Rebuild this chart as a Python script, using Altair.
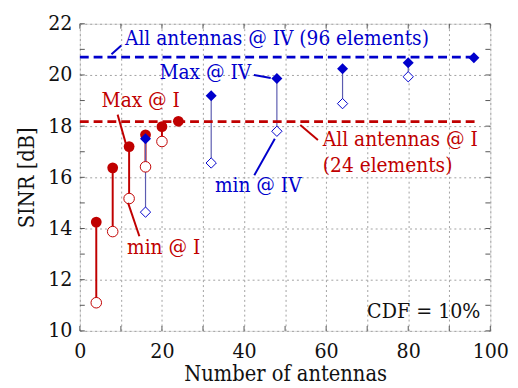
import altair as alt
import pandas as pd

# ---- data ----
red_x = [4, 8, 12, 16, 20, 24]
red_max = [14.25, 16.37, 17.2, 17.66, 17.98, 18.19]
red_min = [11.1, 13.88, 15.17, 16.41, 17.4, None]
blue_x = [16, 32, 48, 64, 80, 96]
blue_max = [17.51, 19.19, 19.86, 20.24, 20.48, 20.67]
blue_min = [14.64, 16.56, 17.8, 18.88, 19.93, None]
all_I = 18.18
all_IV = 20.7

x_ticks = list(range(0, 101, 10))
y_ticks = list(range(10, 23, 1))

RED = "#c00000"
BLUE = "#0000cc"
STEM_BLUE = "#5c5cb0"
FONT = "DejaVu Serif Condensed, DejaVu Serif"
W, H = 417, 312

red = pd.DataFrame({"x": red_x, "mx": red_max, "mn": red_min})
blue = pd.DataFrame({"x": blue_x, "mx": blue_max, "mn": blue_min})

xs = alt.Scale(domain=[0, 100], nice=False)
ys = alt.Scale(domain=[10, 22], nice=False)

X = alt.X("x:Q", scale=xs, title="Number of antennas",
          axis=alt.Axis(values=x_ticks, labelExpr="datum.value % 20 == 0 ? datum.label : ''",
                        grid=True, gridDash=[2, 3], gridColor="#a0a0a0", ticks=False, domain=False,
                        labelFont=FONT, labelFontSize=21.5, labelColor="#111", labelPadding=10,
                        titleFont=FONT, titleFontSize=22, titleFontWeight="normal", titleColor="#111",
                        titlePadding=2, labelFlush=False))
Y_axis = alt.Axis(values=y_ticks, labelExpr="datum.value % 2 == 0 ? datum.label : ''",
                  grid=True, gridDash=[2, 3], gridColor="#a0a0a0", ticks=False, domain=False,
                  labelFont=FONT, labelFontSize=21.5, labelColor="#111", labelPadding=8,
                  titleFont=FONT, titleFontSize=22, titleFontWeight="normal", titleColor="#111",
                  titlePadding=9, labelFlush=False)

base_red = alt.Chart(red)
base_blue = alt.Chart(blue)

axes = alt.Chart(pd.DataFrame({"x": [0], "y": [10]})).mark_point(opacity=0).encode(
    x=X, y=alt.Y("y:Q", scale=ys, title="SINR [dB]", axis=Y_axis))

# ticks (inward)
yt = pd.DataFrame({"y": y_ticks})
xt = pd.DataFrame({"x": x_ticks})
tick_style = dict(color="#555", strokeWidth=1)
lt = alt.Chart(yt).mark_rule(**tick_style).encode(y=alt.Y("y:Q", scale=ys), x=alt.value(0), x2=alt.value(5))
rt = alt.Chart(yt).mark_rule(**tick_style).encode(y=alt.Y("y:Q", scale=ys), x=alt.value(W - 5), x2=alt.value(W))
bt = alt.Chart(xt).mark_rule(**tick_style).encode(x=alt.X("x:Q", scale=xs), y=alt.value(H - 5), y2=alt.value(H))
tt = alt.Chart(xt).mark_rule(**tick_style).encode(x=alt.X("x:Q", scale=xs), y=alt.value(0), y2=alt.value(5))

# dashed reference lines
ref = pd.DataFrame({"y": [all_I, all_IV], "x0": [0, 0], "x1": [96.5, 96], "c": [RED, BLUE]})
refs = alt.Chart(ref).mark_rule(strokeWidth=2.8, strokeDash=[9, 5]).encode(
    x=alt.X("x0:Q", scale=xs), x2="x1:Q", y=alt.Y("y:Q", scale=ys), color=alt.Color("c:N", scale=None))

# stems
red_stem = base_red.transform_filter("isValid(datum.mn)").mark_rule(color=RED, strokeWidth=2).encode(
    x=alt.X("x:Q", scale=xs), y=alt.Y("mn:Q", scale=ys), y2="mx:Q")
blue_stem = base_blue.transform_filter("isValid(datum.mn)").mark_rule(color=STEM_BLUE, strokeWidth=1.2).encode(
    x=alt.X("x:Q", scale=xs), y=alt.Y("mn:Q", scale=ys), y2="mx:Q")

red_min_pts = base_red.transform_filter("isValid(datum.mn)").mark_point(
    shape="circle", size=115, filled=True, fill="white", stroke=RED, strokeWidth=1, opacity=1).encode(
    x=alt.X("x:Q", scale=xs), y=alt.Y("mn:Q", scale=ys))
red_max_pts = base_red.mark_point(shape="circle", size=120, filled=True, color=RED, opacity=1).encode(
    x=alt.X("x:Q", scale=xs), y=alt.Y("mx:Q", scale=ys))
blue_min_pts = base_blue.transform_filter("isValid(datum.mn)").mark_point(
    shape="diamond", size=110, filled=True, fill="white", stroke=BLUE, strokeWidth=1, opacity=1).encode(
    x=alt.X("x:Q", scale=xs), y=alt.Y("mn:Q", scale=ys))
blue_max_pts = base_blue.mark_point(shape="diamond", size=125, filled=True, color=BLUE, opacity=1).encode(
    x=alt.X("x:Q", scale=xs), y=alt.Y("mx:Q", scale=ys))

# annotations
ann_left = pd.DataFrame({
    "t": ["All antennas @ IV (96 elements)", "Max @ IV", "Max @ I", "min @ I", "min @ IV",
          "All antennas @ I", "(24 elements)"],
    "x": [11.0, 19.4, 5.3, 11.5, 32.9, 59.2, 59.2],
    "y": [21.19, 19.85, 18.73, 13.0, 15.43, 17.23, 16.2],
    "c": [BLUE, BLUE, RED, RED, BLUE, RED, RED],
})
ann_right = pd.DataFrame({"t": ["CDF = 10%"], "x": [97.6], "y": [10.5], "c": ["#111111"]})

texts_l = alt.Chart(ann_left).mark_text(font=FONT, fontSize=21, baseline="alphabetic", align="left").encode(
    x=alt.X("x:Q", scale=xs), y=alt.Y("y:Q", scale=ys), text="t:N",
    color=alt.Color("c:N", scale=None))
texts_r = alt.Chart(ann_right).mark_text(font=FONT, fontSize=21.5, baseline="alphabetic", align="right").encode(
    x=alt.X("x:Q", scale=xs), y=alt.Y("y:Q", scale=ys), text="t:N",
    color=alt.Color("c:N", scale=None))

leaders = pd.DataFrame({
    "x0": [7.7, 42.4, 9.2, 11.75, 42.5, 53.7],
    "y0": [20.81, 20.0, 18.45, 15.0, 16.08, 18.04],
    "x1": [10.1, 46.5, 11.35, 14.5, 47.5, 58.0],
    "y1": [21.15, 19.88, 17.23, 13.7, 17.51, 17.46],
    "c": [BLUE, BLUE, RED, RED, BLUE, RED],
})
lead = alt.Chart(leaders).mark_rule(strokeWidth=2).encode(
    x=alt.X("x0:Q", scale=xs), y=alt.Y("y0:Q", scale=ys), x2="x1:Q", y2="y1:Q",
    color=alt.Color("c:N", scale=None))

chart = alt.layer(
    axes, lt, rt, bt, tt, red_stem, blue_stem, refs,
    red_min_pts, red_max_pts, blue_min_pts, blue_max_pts, lead, texts_l, texts_r
).properties(
    width=W, height=H,
    autosize=alt.AutoSizeParams(type="none"),
    padding={"left": 73, "top": 13, "right": 20, "bottom": 55},
).configure_view(stroke="#555", strokeWidth=1.2).configure(background="white")

chart.save("out.html", embed_options={"renderer": "svg", "actions": False})
